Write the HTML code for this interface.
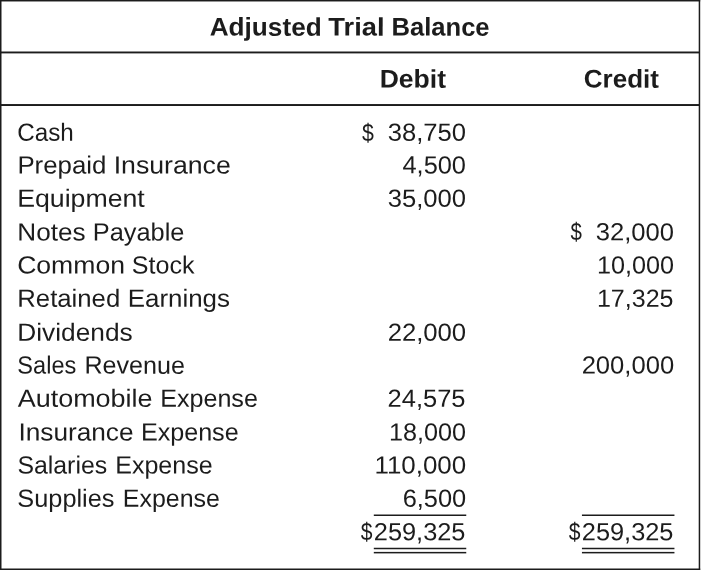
<!DOCTYPE html>
<html lang="en">
<head>
<meta charset="utf-8">
<title>Adjusted Trial Balance</title>
<style>
html,body{margin:0;padding:0;background:#fff;}
body{width:701px;height:571px;position:relative;overflow:hidden;font-family:"Liberation Sans",sans-serif;color:#1c1c1c;}
#lines{position:absolute;left:0;top:0;}
.t{position:absolute;white-space:nowrap;font-size:24.8px;line-height:30px;height:30px;}
.l{transform-origin:0 0;}
.r{transform-origin:100% 0;}
.b{font-weight:bold;font-size:25.6px;}
</style>
</head>
<body>
<svg id="lines" width="701" height="571" viewBox="0 0 701 571">
<g fill="#1c1c1c">
<rect x="0" y="0" width="700.2" height="1.47"/>
<rect x="0" y="0" width="1.5" height="570"/>
<rect x="698.7" y="0" width="1.5" height="570"/>
<rect x="0" y="568.5" width="700.2" height="1.5"/>
<rect x="0" y="51.5" width="700" height="1.9"/>
<rect x="0" y="104.05" width="700" height="1.95"/>
<rect x="373.8" y="514.5" width="92.45" height="1.5"/>
<rect x="373.8" y="547.75" width="92.45" height="1.5"/>
<rect x="373.8" y="551.9" width="92.45" height="1.5"/>
<rect x="581.95" y="514.5" width="92.5" height="1.5"/>
<rect x="581.95" y="547.75" width="92.5" height="1.5"/>
<rect x="581.95" y="551.9" width="92.5" height="1.5"/>
</g>
</svg>

<div class="t l b" id="title_0" style="left:209px;top:11px;transform:translate(0.69px,0.60px) rotate(0.03deg) scaleX(1.0230);">Adjusted</div>
<div class="t l b" id="title_1" style="left:328px;top:11px;transform:translate(0.38px,0.60px) rotate(0.03deg) scaleX(1.0668);">Trial</div>
<div class="t l b" id="title_2" style="left:391px;top:11px;transform:translate(0.47px,0.60px) rotate(0.03deg) scaleX(0.9996);">Balance</div>
<div class="t l b" id="hdeb" style="left:379px;top:63px;transform:translate(0.71px,0.60px) rotate(0.03deg) scaleX(1.0365);">Debit</div>
<div class="t l b" id="hcre" style="left:583px;top:63px;transform:translate(0.80px,0.60px) rotate(0.03deg) scaleX(1.0164);">Credit</div>
<div class="t l" id="lab0_0" style="left:17px;top:117px;transform:translate(0.23px,0.70px) rotate(0.03deg) scaleX(0.9752);">Cash</div>
<div class="t l" id="dol_d0" style="left:361px;top:117px;transform:translate(0.93px,0.70px) rotate(0.03deg) scaleX(0.8582);">$</div>
<div class="t r" id="deb0" style="right:235px;top:117px;transform:translate(0.10px,0.70px) rotate(0.03deg) scaleX(1.0311);">38,750</div>
<div class="t l" id="lab1_0" style="left:17px;top:150px;transform:translate(0.39px,0.40px) rotate(0.03deg) scaleX(1.0409);">Prepaid</div>
<div class="t l" id="lab1_1" style="left:113px;top:150px;transform:translate(0.69px,0.40px) rotate(0.03deg) scaleX(1.0749);">Insurance</div>
<div class="t r" id="deb1" style="right:236px;top:150px;transform:translate(0.94px,0.40px) rotate(0.03deg) scaleX(1.0232);">4,500</div>
<div class="t l" id="lab2_0" style="left:17px;top:183px;transform:translate(0.16px,0.80px) rotate(0.03deg) scaleX(1.0767);">Equipment</div>
<div class="t r" id="deb2" style="right:235px;top:183px;transform:translate(0.10px,0.80px) rotate(0.03deg) scaleX(1.0311);">35,000</div>
<div class="t l" id="lab3_0" style="left:17px;top:217px;transform:translate(0.34px,0.40px) rotate(0.03deg) scaleX(1.0531);">Notes</div>
<div class="t l" id="lab3_1" style="left:92px;top:217px;transform:translate(0.82px,0.40px) rotate(0.03deg) scaleX(1.0220);">Payable</div>
<div class="t l" id="dol_c3" style="left:570px;top:217px;transform:translate(0.41px,0.40px) rotate(0.03deg) scaleX(0.8254);">$</div>
<div class="t r" id="cre3" style="right:27px;top:217px;transform:translate(0.08px,0.40px) rotate(0.03deg) scaleX(1.0315);">32,000</div>
<div class="t l" id="lab4_0" style="left:17px;top:250px;transform:translate(0.16px,0.50px) rotate(0.03deg) scaleX(1.0715);">Common</div>
<div class="t l" id="lab4_1" style="left:131px;top:250px;transform:translate(0.83px,0.50px) rotate(0.03deg) scaleX(1.0112);">Stock</div>
<div class="t r" id="cre4" style="right:27px;top:250px;transform:translate(0.11px,0.50px) rotate(0.03deg) scaleX(1.0152);">10,000</div>
<div class="t l" id="lab5_0" style="left:17px;top:283px;transform:translate(0.29px,0.70px) rotate(0.03deg) scaleX(1.0372);">Retained</div>
<div class="t l" id="lab5_1" style="left:127px;top:283px;transform:translate(0.76px,0.70px) rotate(0.03deg) scaleX(1.0435);">Earnings</div>
<div class="t r" id="cre5" style="right:28px;top:283px;transform:translate(0.64px,0.70px) rotate(0.03deg) scaleX(1.0092);">17,325</div>
<div class="t l" id="lab6_0" style="left:17px;top:317px;transform:translate(0.25px,0.70px) rotate(0.03deg) scaleX(1.0599);">Dividends</div>
<div class="t r" id="deb6" style="right:235px;top:317px;transform:translate(0.31px,0.70px) rotate(0.03deg) scaleX(1.0352);">22,000</div>
<div class="t l" id="lab7_0" style="left:17px;top:350px;transform:translate(0.38px,0.60px) rotate(0.03deg) scaleX(0.9491);">Sales</div>
<div class="t l" id="lab7_1" style="left:84px;top:350px;transform:translate(0.39px,0.60px) rotate(0.03deg) scaleX(1.0128);">Revenue</div>
<div class="t r" id="cre7" style="right:27px;top:350px;transform:translate(0.54px,0.60px) rotate(0.03deg) scaleX(1.0323);">200,000</div>
<div class="t l" id="lab8_0" style="left:17px;top:383px;transform:translate(0.67px,0.80px) rotate(0.03deg) scaleX(1.0878);">Automobile</div>
<div class="t l" id="lab8_1" style="left:160px;top:383px;transform:translate(0.14px,0.80px) rotate(0.03deg) scaleX(1.0129);">Expense</div>
<div class="t r" id="deb8" style="right:236px;top:383px;transform:translate(0.66px,0.80px) rotate(0.03deg) scaleX(1.0276);">24,575</div>
<div class="t l" id="lab9_0" style="left:18px;top:417px;transform:translate(0.42px,0.50px) rotate(0.03deg) scaleX(1.0575);">Insurance</div>
<div class="t l" id="lab9_1" style="left:140px;top:417px;transform:translate(0.89px,0.50px) rotate(0.03deg) scaleX(1.0132);">Expense</div>
<div class="t r" id="deb9" style="right:235px;top:417px;transform:translate(0.11px,0.50px) rotate(0.03deg) scaleX(1.0152);">18,000</div>
<div class="t l" id="lab10_0" style="left:17px;top:450px;transform:translate(0.43px,0.50px) rotate(0.03deg) scaleX(1.0012);">Salaries</div>
<div class="t l" id="lab10_1" style="left:115px;top:450px;transform:translate(0.22px,0.50px) rotate(0.03deg) scaleX(1.0102);">Expense</div>
<div class="t r" id="deb10" style="right:235px;top:450px;transform:translate(0.36px,0.50px) rotate(0.03deg) scaleX(1.0446);">110,000</div>
<div class="t l" id="lab11_0" style="left:17px;top:483px;transform:translate(0.38px,0.80px) rotate(0.03deg) scaleX(1.0208);">Supplies</div>
<div class="t l" id="lab11_1" style="left:122px;top:483px;transform:translate(0.87px,0.80px) rotate(0.03deg) scaleX(1.0055);">Expense</div>
<div class="t r" id="deb11" style="right:235px;top:483px;transform:translate(0.11px,0.80px) rotate(0.03deg) scaleX(1.0231);">6,500</div>
<div class="t l" id="dol_d12" style="left:360px;top:517px;transform:translate(0.69px,0.30px) rotate(0.03deg) scaleX(0.8500);">$</div>
<div class="t r" id="deb12" style="right:236px;top:517px;transform:translate(0.82px,0.30px) rotate(0.03deg) scaleX(1.0225);">259,325</div>
<div class="t l" id="dol_c12" style="left:568px;top:517px;transform:translate(0.69px,0.30px) rotate(0.03deg) scaleX(0.8500);">$</div>
<div class="t r" id="cre12" style="right:28px;top:517px;transform:translate(0.82px,0.30px) rotate(0.03deg) scaleX(1.0225);">259,325</div>
</body>
</html>
